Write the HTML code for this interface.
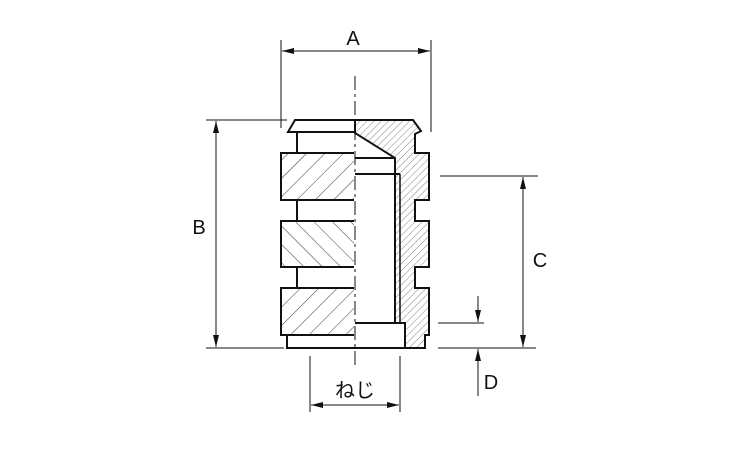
<!DOCTYPE html>
<html><head><meta charset="utf-8"><style>
html,body{margin:0;padding:0;background:#fff;width:750px;height:450px;overflow:hidden}
svg{display:block}
text{font-family:"Liberation Sans","Noto Sans CJK JP",sans-serif;fill:#111}
</style></head><body>
<svg width="750" height="450" viewBox="0 0 750 450" xmlns="http://www.w3.org/2000/svg">
<defs>
<pattern id="hf" patternUnits="userSpaceOnUse" width="5" height="5" patternTransform="rotate(45)">
<line x1="0" y1="0" x2="0" y2="5" stroke="#666" stroke-width="0.8"/></pattern>
<pattern id="hc1" patternUnits="userSpaceOnUse" width="13" height="13" patternTransform="rotate(45)">
<line x1="0" y1="0" x2="0" y2="13" stroke="#222" stroke-width="0.9"/></pattern>
<pattern id="hc2" patternUnits="userSpaceOnUse" width="13" height="13" patternTransform="rotate(-45)">
<line x1="0" y1="0" x2="0" y2="13" stroke="#222" stroke-width="0.9"/></pattern>
<marker id="ar" viewBox="0 0 12 6" refX="12" refY="3" markerWidth="12" markerHeight="6" orient="auto-start-reverse" markerUnits="userSpaceOnUse">
<path d="M0,0 L12,3 L0,6 Z" fill="#111"/></marker>
</defs>
<g stroke="#111" fill="none">
<path d="M355,120 L413,120 L421,131 L415,134 L415,153 L429,153 L429,200 L415,200 L415,221 L429,221 L429,267 L415,267 L415,288 L429,288 L429,335 L425,335 L425,348 L405,348 L405,323 L395,323 L395,158 L355,133 Z" fill="url(#hf)" stroke-width="2"/>
<line x1="400" y1="174" x2="400" y2="323" stroke-width="1.5"/>
<line x1="355" y1="158" x2="395" y2="158" stroke-width="2"/>
<line x1="355" y1="174" x2="400" y2="174" stroke-width="2"/>
<path d="M355,323 L405,323 L405,348 L355,348" stroke-width="2" fill="#fff"/>
<path d="M355,120 L295,120 L288,132 L355,132" stroke-width="2"/>
<line x1="297" y1="132" x2="297" y2="153" stroke-width="2"/>
<line x1="297" y1="200" x2="297" y2="221" stroke-width="2"/>
<line x1="297" y1="267" x2="297" y2="288" stroke-width="2"/>
<rect x="281" y="153" width="73" height="47" fill="url(#hc1)" stroke="none"/>
<rect x="281" y="221" width="73" height="46" fill="url(#hc2)" stroke="none"/>
<rect x="281" y="288" width="73" height="47" fill="url(#hc1)" stroke="none"/>
<path d="M354,153 L281,153 L281,200 L354,200 M354,221 L281,221 L281,267 L354,267 M354,288 L281,288 L281,335 L354,335" stroke-width="2"/>
<path d="M287,335 L287,348 L355,348" stroke-width="2"/>
<line x1="355" y1="76" x2="355" y2="366" stroke-width="1" stroke-dasharray="14,4,3,4"/>
<g stroke-width="1">
<line x1="281" y1="40" x2="281" y2="128"/><line x1="431" y1="40" x2="431" y2="132"/>
<line x1="282" y1="51" x2="430" y2="51" marker-start="url(#ar)" marker-end="url(#ar)"/>
<line x1="206" y1="120" x2="287" y2="120"/><line x1="206" y1="348" x2="284" y2="348"/>
<line x1="216" y1="121" x2="216" y2="347" marker-start="url(#ar)" marker-end="url(#ar)"/>
<line x1="440" y1="176" x2="538" y2="176"/><line x1="438" y1="348" x2="536" y2="348"/>
<line x1="523" y1="177" x2="523" y2="347" marker-start="url(#ar)" marker-end="url(#ar)"/>
<line x1="438" y1="323" x2="484" y2="323"/>
<line x1="478" y1="296" x2="478" y2="322" marker-end="url(#ar)"/>
<line x1="478" y1="396" x2="478" y2="349" marker-end="url(#ar)"/>
<line x1="310" y1="356" x2="310" y2="412"/><line x1="400" y1="356" x2="400" y2="412"/>
<line x1="311" y1="405" x2="399" y2="405" marker-start="url(#ar)" marker-end="url(#ar)"/>
</g>
</g>
<text x="353" y="45" font-size="20" text-anchor="middle">A</text>
<text x="199" y="234" font-size="20" text-anchor="middle">B</text>
<text x="540" y="267" font-size="20" text-anchor="middle">C</text>
<text x="491" y="389" font-size="20" text-anchor="middle">D</text>
<text x="355" y="397" font-size="20" text-anchor="middle">ねじ</text>
</svg>
</body></html>
